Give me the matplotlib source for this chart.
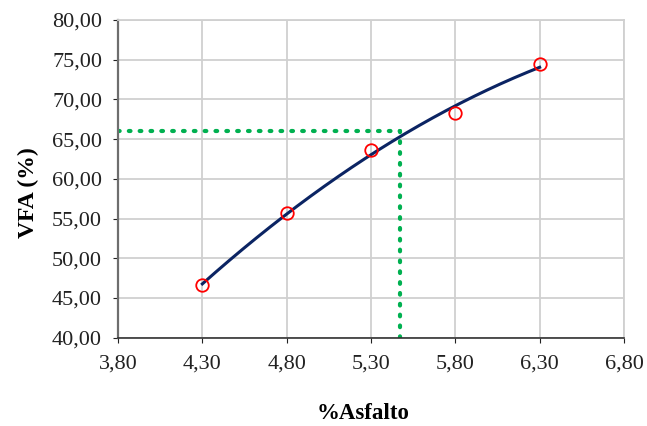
import matplotlib.pyplot as plt
import numpy as np
from matplotlib.ticker import FuncFormatter, FixedLocator, MultipleLocator

# Data
asfalto = [4.30, 4.80, 5.30, 5.80, 6.30]
vfa = [46.6, 55.7, 63.6, 68.3, 74.4]

# Design asphalt content and VFA target (green dotted guide)
opt_asfalto = 5.47
opt_vfa = 66.0

x_ticks = [3.80, 4.30, 4.80, 5.30, 5.80, 6.30, 6.80]

plt.rcParams['font.family'] = ['Liberation Serif', 'DejaVu Serif']

fig = plt.figure(figsize=(6.47, 4.26), dpi=100)
ax = fig.add_axes([0.1824, 0.2075, 0.782, 0.7455])

# Quadratic trendline through the points
coef = np.polyfit(asfalto, vfa, 2)
xs = np.linspace(asfalto[0], asfalto[-1], 200)
ax.plot(xs, np.polyval(coef, xs), color="#0B2463", lw=2.2, zorder=3)
ax.plot(asfalto, vfa, "o", mfc="none", mec="#FF0000", ms=9, mew=1.3, zorder=4)

ax.plot([x_ticks[0], opt_asfalto], [opt_vfa, opt_vfa], color="#00B050", lw=3,
        linestyle=(0, (0.4, 2.2)), dash_capstyle="round", zorder=2)
ax.plot([opt_asfalto, opt_asfalto], [40, opt_vfa], color="#00B050", lw=3,
        linestyle=(0, (0.4, 2.2)), dash_capstyle="round", zorder=2)

ax.set_xlim(x_ticks[0], x_ticks[-1])
ax.set_ylim(40, 80)
ax.xaxis.set_major_locator(FixedLocator(x_ticks))
ax.yaxis.set_major_locator(MultipleLocator(5))
fmt = FuncFormatter(lambda v, p: ("%.2f" % v).replace(".", ","))
ax.xaxis.set_major_formatter(fmt)
ax.yaxis.set_major_formatter(fmt)
ax.grid(True, color="#D0D0D0", lw=1.3)
ax.set_axisbelow(True)

for s in ["top", "right"]:
    ax.spines[s].set_color("#D0D0D0")
    ax.spines[s].set_linewidth(1.3)
ax.spines["left"].set_color("#6E6E6E")
ax.spines["left"].set_linewidth(1.6)
ax.spines["bottom"].set_color("#333333")
ax.spines["bottom"].set_linewidth(1.2)

ax.tick_params(axis="both", labelsize=16, length=3.5, direction="out", colors="#222222")
ax.tick_params(axis="x", pad=9)
ax.tick_params(axis="y", pad=8)

ax.set_xlabel("%Asfalto", fontsize=16.5, fontweight="bold")
ax.set_ylabel("VFA (%)", fontsize=17, fontweight="bold")
ax.xaxis.set_label_coords(0.484, -0.205)
ax.yaxis.set_label_coords(-0.156, 0.458)

fig.savefig("out.png", dpi=100)
